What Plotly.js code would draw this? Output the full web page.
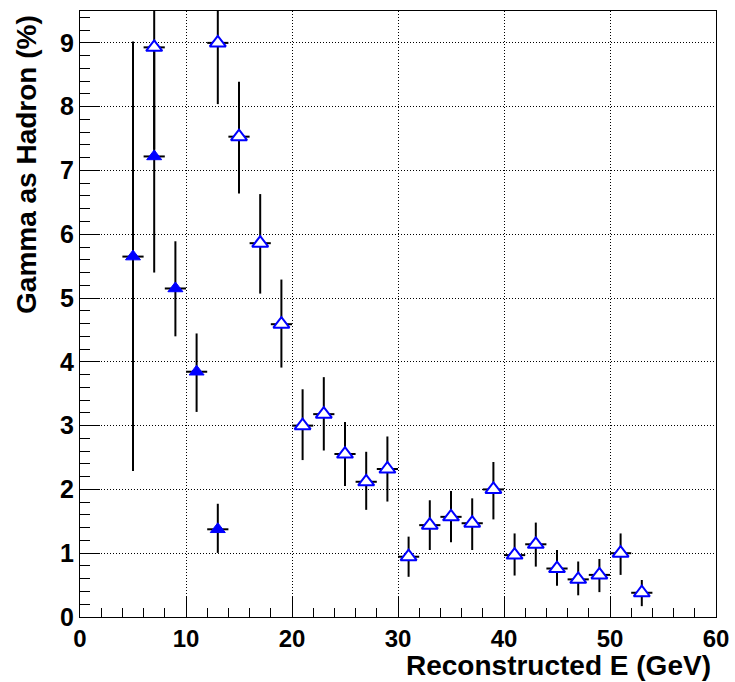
<!DOCTYPE html>
<html>
<head>
<meta charset="utf-8">
<script src="https://cdn.plot.ly/plotly-3.0.1.min.js"></script>
<style>html,body{margin:0;padding:0;background:#fff;}#chart{width:735px;height:682px;}</style>
</head>
<body>
<div id="chart"></div>
<script>
// Filled triangles
var filledX = [5, 7, 9, 11, 13];
var filledY = [5.65, 7.22, 5.15, 3.845, 1.375];
var filledErrUp = [3.37, 1.82, 0.74, 0.60, 0.40];
var filledErrDown = [3.36, 1.82, 0.75, 0.63, 0.37];

// Open triangles
var openX = [7, 13, 15, 17, 19, 21, 23, 25, 27, 29, 31, 33, 35, 37, 39, 41, 43, 45, 47, 49, 51, 53];
var openY = [8.93, 9.0, 7.53, 5.86, 4.59, 3.0, 3.18, 2.555, 2.12, 2.32, 0.945, 1.44, 1.57, 1.47, 2.0, 0.97, 1.14, 0.76, 0.59, 0.66, 1.0, 0.38];
var openErrUp = [1.6, 0.96, 0.86, 0.77, 0.70, 0.57, 0.58, 0.50, 0.47, 0.51, 0.315, 0.39, 0.405, 0.39, 0.43, 0.34, 0.34, 0.29, 0.28, 0.25, 0.31, 0.20];
var openErrDown = [1.6, 0.96, 0.89, 0.79, 0.68, 0.54, 0.57, 0.50, 0.44, 0.51, 0.315, 0.39, 0.40, 0.42, 0.47, 0.32, 0.35, 0.27, 0.25, 0.27, 0.34, 0.21];

var binHalfWidth = 1;
var xTitle = 'Reconstructed E (GeV)';
var yTitle = 'Gamma as Hadron (%)';

function halfWidths(n) { var a = []; for (var i = 0; i < n; i++) a.push(binHalfWidth); return a; }

var xTickFont = {family: 'Liberation Sans, Arial, sans-serif', size: 24, color: '#000', weight: 'bold'};
var yTickFont = {family: 'Liberation Sans, Arial, sans-serif', size: 25, color: '#000', weight: 'bold'};
var titleFont = {family: 'Liberation Sans, Arial, sans-serif', size: 28, color: '#000', weight: 'bold'};

function errTrace(xs, ys, up, down) {
  return {
    x: xs, y: ys, type: 'scatter', mode: 'markers',
    marker: {size: 1, opacity: 0},
    error_y: {type: 'data', symmetric: false, array: up, arrayminus: down, color: '#000', thickness: 2, width: 0},
    error_x: {type: 'data', array: halfWidths(xs.length), color: '#000', thickness: 2, width: 0},
    showlegend: false, hoverinfo: 'skip'
  };
}

var traces = [
  errTrace(openX, openY, openErrUp, openErrDown),
  errTrace(filledX, filledY, filledErrUp, filledErrDown),
  {
    x: openX, y: openY, type: 'scatter', mode: 'markers',
    marker: {symbol: 'triangle-up', size: 14, color: '#ffffff', line: {color: '#0000ff', width: 2}},
    showlegend: false, cliponaxis: true
  },
  {
    x: filledX, y: filledY, type: 'scatter', mode: 'markers',
    marker: {symbol: 'triangle-up', size: 13, color: '#0000ff', line: {color: '#0000ff', width: 1}},
    showlegend: false, cliponaxis: true
  }
];

var layout = {
  width: 735, height: 682,
  margin: {l: 80, r: 19, t: 11, b: 65, pad: 0},
  paper_bgcolor: '#fff', plot_bgcolor: '#fff',
  showlegend: false,
  xaxis: {
    range: [0, 60], dtick: 10, tick0: 0,
    ticks: 'inside', ticklen: 20, tickwidth: 1, tickcolor: '#000',
    minor: {dtick: 2, ticks: 'inside', ticklen: 9, tickwidth: 1, tickcolor: '#000', showgrid: false},
    showline: true, linecolor: '#000', linewidth: 1, mirror: true,
    showgrid: true, gridcolor: '#000', gridwidth: 1, griddash: '1px,2px',
    zeroline: false, tickfont: xTickFont, fixedrange: true
  },
  yaxis: {
    range: [0, 9.5], dtick: 1, tick0: 0,
    ticks: 'inside', ticklen: 20, tickwidth: 1, tickcolor: '#000',
    minor: {dtick: 0.2, ticks: 'inside', ticklen: 10, tickwidth: 1, tickcolor: '#000', showgrid: false},
    showline: true, linecolor: '#000', linewidth: 1, mirror: true,
    showgrid: true, gridcolor: '#000', gridwidth: 1, griddash: '1px,2px',
    zeroline: false, tickfont: yTickFont, fixedrange: true
  },
  annotations: [
    {text: xTitle, xref: 'paper', yref: 'paper', x: 0.9953, y: -0.0805, xanchor: 'right', yanchor: 'middle', showarrow: false, font: titleFont},
    {text: yTitle, xref: 'paper', yref: 'paper', x: -0.0833, y: 0.746, xanchor: 'center', yanchor: 'middle', textangle: -90, showarrow: false, font: titleFont}
  ]
};

Plotly.newPlot('chart', traces, layout, {staticPlot: true, displayModeBar: false});
</script>
</body>
</html>
